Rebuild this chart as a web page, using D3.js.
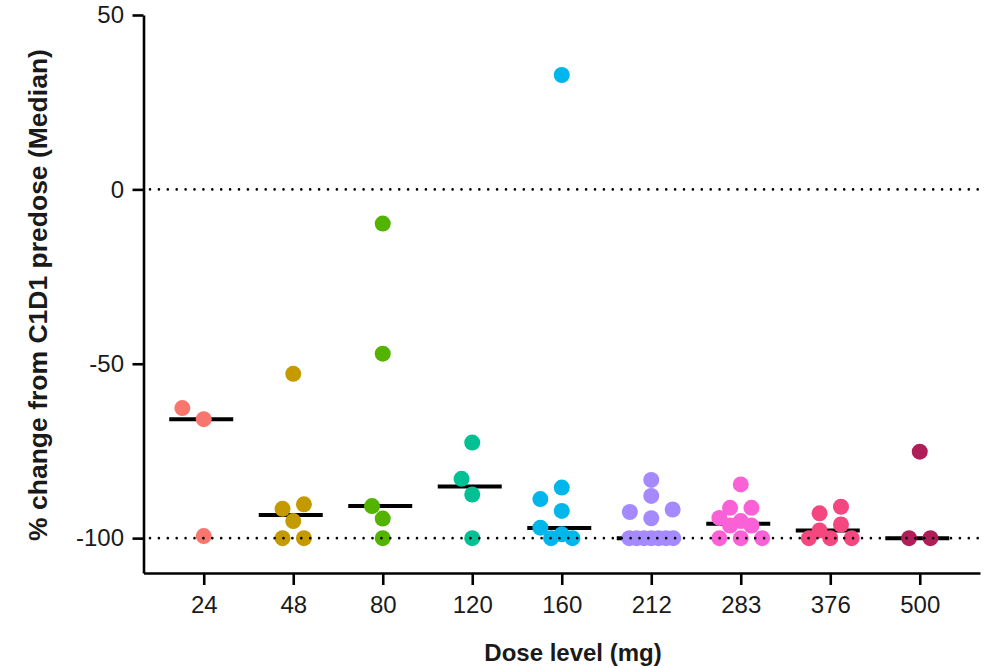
<!DOCTYPE html>
<html>
<head>
<meta charset="utf-8">
<script src="https://cdn.jsdelivr.net/npm/d3@7"></script>
<style>
  body { margin: 0; background: #fff; }
  text { font-family: "Liberation Sans", Arial, Helvetica, sans-serif; }
</style>
</head>
<body>
<svg id="chart" width="987" height="668"></svg>
<script>
// Dose levels (mg) and % change values
const doses = ['24', '48', '80', '120', '160', '212', '283', '376', '500'];
const dose24 = [-62.7, -65.9, -99.4];
const dose48 = [-52.9, -90.3, -91.6, -95.1, -100, -100];
const dose80 = [-9.8, -47.1, -90.8, -94.4, -100];
const dose120 = [-72.6, -83.0, -87.5, -100];
const dose160 = [32.8, -85.5, -88.8, -92.2, -97.0, -98.9, -100, -100];
const dose212 = [-83.3, -87.9, -91.8, -92.5, -94.3, -100, -100, -100, -100, -100, -100, -100];
const dose283 = [-84.6, -91.3, -91.3, -94.2, -95.1, -96.4, -96.4, -100, -100, -100];
const dose376 = [-91.0, -92.9, -96.1, -97.8, -100, -100, -100];
const dose500 = [-75.2, -100, -100];
const medians = [-65.9, -93.4, -90.8, -85.2, -97.1, -100, -95.9, -97.8, -100];
const yTicks = [50, 0, -50, -100];
const refLines = [0, -100];
const colors = ['#F8766D', '#C49A00', '#53B400', '#00C094', '#00B6EB', '#A58AFF', '#FB61D7', '#F4467F', '#B01E5A'];

const groups = [dose24, dose48, dose80, dose120, dose160, dose212, dose283, dose376, dose500];

const svg = d3.select('#chart');
const plotLeft = 143.5, plotRight = 980, plotTop = 15, plotBottom = 573;

const x = d3.scalePoint()
    .domain(doses)
    .range([plotLeft, plotRight])
    .padding(0.673);

const y = d3.scaleLinear()
    .domain([-110, 50])
    .range([plotBottom, plotTop]);

const radius = 8;
const step = 10.7;      // horizontal slot for the scatter spread
const minDist = 16;
const maxSpan = 44;

// simple scatter spread: ties side by side, others pushed aside when they collide
function swarm(values, cx) {
    const sorted = values.slice().sort((a, b) => a - b);
    const placed = [];
    let i = 0;
    while (i < sorted.length) {
        let j = i;
        while (j < sorted.length && sorted[j] === sorted[i]) j++;
        const n = j - i;
        const py = y(sorted[i]);
        if (n > 1) {
            const gap = Math.min(2 * step, maxSpan / (n - 1));
            for (let k = 0; k < n; k++) {
                placed.push({ v: sorted[i], x: cx + (k - (n - 1) / 2) * gap, y: py });
            }
        } else {
            let best = cx, bestD = -1;
            for (const k of [0, -1, 1, -2, 2]) {
                const px = cx + k * step;
                const d = placed.length ? d3.min(placed, p => Math.hypot(p.x - px, p.y - py)) : Infinity;
                if (d >= minDist) { best = px; break; }
                if (d > bestD) { bestD = d; best = px; }
            }
            placed.push({ v: sorted[i], x: best, y: py });
        }
        i = j;
    }
    return placed;
}

// median bars
svg.append('g')
    .selectAll('line')
    .data(doses)
    .enter()
    .append('line')
    .attr('x1', d => x(d) - 2.5 - 32)
    .attr('x2', d => x(d) - 2.5 + 32)
    .attr('y1', (d, i) => y(medians[i]))
    .attr('y2', (d, i) => y(medians[i]))
    .attr('stroke', '#000')
    .attr('stroke-width', 4);

// points
groups.forEach((vals, gi) => {
    const pts = swarm(vals, x(doses[gi]));
    svg.append('g')
        .selectAll('circle')
        .data(pts)
        .enter()
        .append('circle')
        .attr('cx', d => d.x)
        .attr('cy', d => d.y)
        .attr('r', radius)
        .attr('fill', colors[gi]);
});

// dotted reference lines
svg.append('g')
    .selectAll('line')
    .data(refLines)
    .enter()
    .append('line')
    .attr('x1', plotLeft + 6.5)
    .attr('x2', plotRight)
    .attr('y1', d => y(d))
    .attr('y2', d => y(d))
    .attr('stroke', '#000')
    .attr('stroke-width', 2.6)
    .attr('stroke-linecap', 'round')
    .attr('stroke-dasharray', '0 8.9');

// axes
const yAxis = svg.append('g')
    .attr('transform', `translate(${plotLeft},0)`)
    .call(d3.axisLeft(y).tickValues(yTicks).tickFormat(d => String(d))
        .tickSize(11).tickSizeOuter(0).tickPadding(8.5));

const xAxis = svg.append('g')
    .attr('transform', `translate(0,${plotBottom})`)
    .call(d3.axisBottom(x).tickSize(12).tickSizeOuter(0).tickPadding(11));

[yAxis, xAxis].forEach(ax => {
    ax.select('.domain').attr('stroke', '#000').attr('stroke-width', 2.6);
    ax.selectAll('.tick line').attr('stroke', '#000').attr('stroke-width', 2.6);
    ax.selectAll('.tick text')
        .attr('fill', '#1a1a1a')
        .style('font-size', '24px')
        .style('font-family', '"Liberation Sans", Arial, sans-serif');
});

// axis titles
svg.append('text')
    .attr('x', 573)
    .attr('y', 661)
    .attr('text-anchor', 'middle')
    .attr('font-weight', 'bold')
    .attr('font-size', 24)
    .attr('fill', '#1a1a1a')
    .text('Dose level (mg)');

svg.append('text')
    .attr('transform', 'translate(46.5,295) rotate(-90)')
    .attr('text-anchor', 'middle')
    .attr('font-weight', 'bold')
    .attr('font-size', 26.5)
    .attr('fill', '#1a1a1a')
    .text('% change from C1D1 predose (Median)');
</script>
</body>
</html>
